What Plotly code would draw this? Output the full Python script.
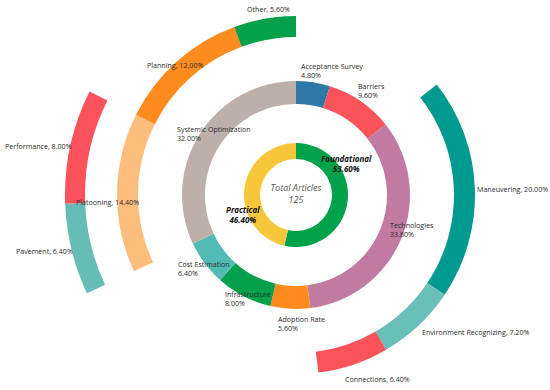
import numpy as np
import plotly.graph_objects as go

# ---------------- data ----------------
inner_labels = ["Foundational", "Practical"]
inner_values = [53.6, 46.4]

mid_labels = ["Acceptance Survey", "Barriers", "Technologies", "Adoption Rate",
              "Infrastructure", "Cost Estimation", "Systemic Optimization"]
mid_values = [4.8, 9.6, 33.6, 5.6, 8.0, 6.4, 32.0]

tech_labels = ["Maneuvering", "Environment Recognizing", "Connections"]
tech_values = [20.0, 7.2, 6.4]

sys_labels = ["Platooning", "Planning", "Other"]
sys_values = [14.4, 12.0, 5.6]

plat_labels = ["Pavement", "Performance"]
plat_values = [6.4, 8.0]

total_articles = 125

# ---------------- styles ----------------
inner_colors = ["#00a14b", "#f8c63a"]
mid_colors = ["#2f77a8", "#fa545b", "#c17ba3", "#fd8b1e", "#04a04b", "#52bbb4", "#bdafa9"]
tech_colors = ["#009a90", "#6bbfb9", "#fb535a"]
sys_colors = ["#fdbd7d", "#fd8b1e", "#04a04a"]
plat_colors = ["#66bdb6", "#fb525b"]

W, H = 550, 390
CX, CY = 296, 195
R1 = 195   # radius (px) of main polar subplot; radial unit = 1 px
R2 = 232   # radius (px) of outer-left polar sector subplot


def ring(values, names, colors, start_pct, r_in, r_out, subplot="polar"):
    vals = np.asarray(values, dtype=float)
    starts = start_pct + np.concatenate([[0.0], np.cumsum(vals)[:-1]])
    return go.Barpolar(
        theta=(starts + vals / 2) * 3.6,
        width=vals * 3.6,
        base=[r_in] * len(vals),
        r=[r_out - r_in] * len(vals),
        marker=dict(color=colors, line=dict(width=0)),
        customdata=names,
        hovertemplate="%{customdata}<extra></extra>",
        showlegend=False,
        subplot=subplot,
    )


tech_start = sum(mid_values[:mid_labels.index("Technologies")])
sys_start = sum(mid_values[:mid_labels.index("Systemic Optimization")])
plat_start = sys_start + sum(sys_values[:sys_labels.index("Platooning")])

fig = go.Figure()
fig.add_trace(ring(inner_values, inner_labels, inner_colors, 0.0, 36, 52))
fig.add_trace(ring(mid_values, mid_labels, mid_colors, 0.0, 91, 114))
fig.add_trace(ring(tech_values, tech_labels, tech_colors, tech_start, 158, 179))
fig.add_trace(ring(sys_values, sys_labels, sys_colors, sys_start, 158, 179))
fig.add_trace(ring(plat_values, plat_labels, plat_colors, plat_start, 211, 231, "polar2"))

fig.add_trace(go.Scatterpolar(
    r=[0], theta=[0], mode="text",
    text=[f"Total Articles<br>{total_articles}"],
    textfont=dict(family="Open Sans", size=9, color="#555555", style="italic"),
    hoverinfo="skip", showlegend=False,
))

label_font = dict(family="Open Sans", size=7.1, color="#2b2b2b")
pct = lambda v: f"{v:.2f}%"

# label anchor positions (px, left edge / vertical centre, number of lines)
label_pos = {
    "Acceptance Survey": (300, 70.5, 2), "Barriers": (357, 90.5, 2),
    "Technologies": (389, 229.5, 2), "Adoption Rate": (277, 323.5, 2),
    "Infrastructure": (224, 298.5, 2), "Cost Estimation": (177, 268.5, 2),
    "Systemic Optimization": (176, 133, 2),
    "Maneuvering": (476, 189, 1), "Environment Recognizing": (421, 332, 1),
    "Connections": (344, 379, 1), "Platooning": (75, 202, 1),
    "Planning": (146, 65, 1), "Other": (246, 9, 1),
    "Pavement": (15, 251, 1), "Performance": (4, 146, 1),
}
all_labels = mid_labels + tech_labels + sys_labels + plat_labels
all_values = mid_values + tech_values + sys_values + plat_values
annotations = []
for name, val in zip(all_labels, all_values):
    x, y, lines = label_pos[name]
    txt = f"{name}<br>{pct(val)}" if lines == 2 else f"{name}, {pct(val)}"
    annotations.append(dict(x=x / W, y=1 - y / H, xref="paper", yref="paper",
                            text=txt, showarrow=False, xanchor="left", yanchor="middle",
                            align="left", font=label_font, borderpad=0))

inner_pos = {"Foundational": (346, 163), "Practical": (243, 214.5)}
for name, val in zip(inner_labels, inner_values):
    x, y = inner_pos[name]
    annotations.append(dict(x=x / W, y=1 - y / H, xref="paper", yref="paper",
                            text=f"{name}<br>{pct(val)}", showarrow=False,
                            xanchor="center", yanchor="middle", align="center",
                            borderpad=0,
                            font=dict(family="Open Sans", size=8, color="#111111",
                                      weight="bold", style="italic")))

ang = dict(rotation=90, direction="clockwise", visible=False,
           showgrid=False, thetaunit="degrees")

fig.update_layout(
    width=W, height=H,
    margin=dict(l=0, r=0, t=0, b=0),
    paper_bgcolor="white", plot_bgcolor="white",
    annotations=annotations,
    polar=dict(
        domain=dict(x=[(CX - R1) / W, (CX + R1) / W], y=[0, 1]),
        bgcolor="rgba(0,0,0,0)",
        barmode="overlay",
        radialaxis=dict(range=[0, R1], visible=False, showgrid=False),
        angularaxis=ang,
    ),
    # left sector (150..210 deg, screen angles) holding the outermost ring
    polar2=dict(
        sector=[150, 210],
        domain=dict(x=[(CX - R2) / W, CX / W],
                    y=[1 - (CY + R2 / 2) / H, 1 - (CY - R2 / 2) / H]),
        bgcolor="rgba(0,0,0,0)",
        barmode="overlay",
        radialaxis=dict(range=[0, R2], visible=False, showgrid=False),
        angularaxis=ang,
    ),
)

fig.write_html("out.html", config={"displayModeBar": False},
               post_script="document.body.style.margin='0';")
